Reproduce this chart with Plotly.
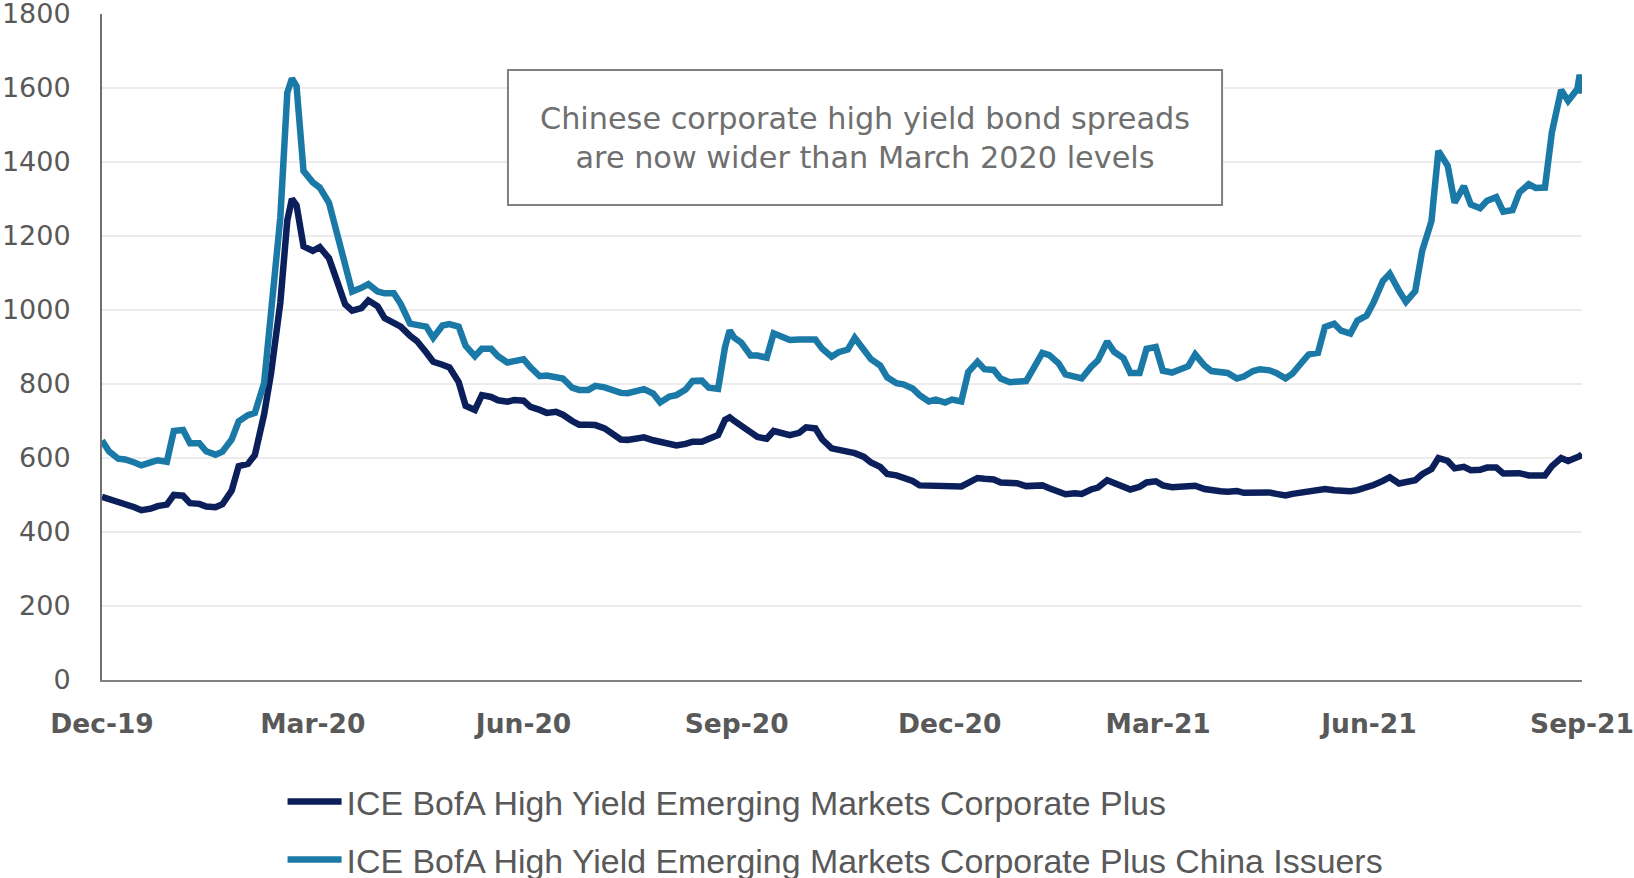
import plotly.graph_objects as go

# ---- data ----
dates = [
    "2019-12-31", "2020-01-03", "2020-01-07", "2020-01-10", "2020-01-14", "2020-01-17", "2020-01-21", "2020-01-24", "2020-01-28", "2020-01-31",
    "2020-02-04", "2020-02-07", "2020-02-11", "2020-02-14", "2020-02-18", "2020-02-21", "2020-02-25", "2020-02-28",
    "2020-03-03", "2020-03-06", "2020-03-10", "2020-03-13", "2020-03-17", "2020-03-20", "2020-03-22", "2020-03-24", "2020-03-27",
    "2020-03-31", "2020-04-03", "2020-04-07", "2020-04-10", "2020-04-14", "2020-04-17", "2020-04-21", "2020-04-24", "2020-04-28", "2020-05-01",
    "2020-05-05", "2020-05-08", "2020-05-12", "2020-05-15", "2020-05-19", "2020-05-22", "2020-05-26", "2020-05-29",
    "2020-06-02", "2020-06-05", "2020-06-09", "2020-06-12", "2020-06-16", "2020-06-19", "2020-06-23", "2020-06-26", "2020-06-30", "2020-07-03",
    "2020-07-07", "2020-07-10", "2020-07-14", "2020-07-17", "2020-07-21", "2020-07-24", "2020-07-28", "2020-07-31",
    "2020-08-04", "2020-08-07", "2020-08-11", "2020-08-14", "2020-08-18", "2020-08-21", "2020-08-25", "2020-08-28",
    "2020-09-01", "2020-09-04", "2020-09-08", "2020-09-11", "2020-09-15", "2020-09-18", "2020-09-22", "2020-09-25", "2020-09-27",
    "2020-09-29", "2020-10-02", "2020-10-06", "2020-10-09", "2020-10-13", "2020-10-16", "2020-10-20", "2020-10-23", "2020-10-27", "2020-10-30",
    "2020-11-03", "2020-11-06", "2020-11-10", "2020-11-13", "2020-11-17", "2020-11-20", "2020-11-24", "2020-11-27",
    "2020-12-01", "2020-12-04", "2020-12-08", "2020-12-11", "2020-12-15", "2020-12-18", "2020-12-22", "2020-12-25", "2020-12-29", "2021-01-01",
    "2021-01-05", "2021-01-08", "2021-01-12", "2021-01-15", "2021-01-19", "2021-01-22", "2021-01-26", "2021-01-29",
    "2021-02-02", "2021-02-05", "2021-02-09", "2021-02-12", "2021-02-16", "2021-02-19", "2021-02-23", "2021-02-26",
    "2021-03-02", "2021-03-05", "2021-03-09", "2021-03-12", "2021-03-16", "2021-03-19", "2021-03-23", "2021-03-26", "2021-03-30", "2021-04-02",
    "2021-04-06", "2021-04-09", "2021-04-13", "2021-04-16", "2021-04-20", "2021-04-23", "2021-04-27", "2021-04-30",
    "2021-05-04", "2021-05-07", "2021-05-11", "2021-05-14", "2021-05-18", "2021-05-21", "2021-05-25", "2021-05-28",
    "2021-06-01", "2021-06-04", "2021-06-08", "2021-06-11", "2021-06-15", "2021-06-18", "2021-06-22", "2021-06-25", "2021-06-29", "2021-07-02",
    "2021-07-06", "2021-07-09", "2021-07-13", "2021-07-16", "2021-07-20", "2021-07-23", "2021-07-27", "2021-07-30",
    "2021-08-03", "2021-08-06", "2021-08-10", "2021-08-13", "2021-08-17", "2021-08-20", "2021-08-24", "2021-08-27",
    "2021-08-31", "2021-09-03", "2021-09-07", "2021-09-10", "2021-09-14", "2021-09-17", "2021-09-21", "2021-09-24",
    "2021-09-28", "2021-09-29", "2021-09-30",
]

em_corp_plus = [
    495, 490, 484, 475, 467, 459, 463, 470, 474, 500,
    498, 478, 476, 469, 467, 475, 512, 578,
    584, 608, 718, 830, 1020, 1242, 1300, 1283, 1172,
    1160, 1170, 1140, 1087, 1015, 998, 1005, 1026, 1010, 978,
    967, 955, 930, 916, 885, 860, 852, 845,
    805, 741, 730, 770, 765, 756, 752, 757, 755, 738,
    730, 722, 725, 717, 700, 690, 690, 689,
    680, 668, 650, 649, 653, 656, 648, 643,
    637, 634, 638, 644, 644, 650, 662, 703, 710,
    700, 689, 670, 657, 652, 673, 669, 662, 668, 683,
    680, 650, 626, 623, 620, 613, 603, 588,
    576, 557, 553, 548, 538, 526, 525, 522, 521, 522,
    523, 533, 546, 544, 542, 534, 533, 532,
    524, 523, 526, 518, 511, 502, 505, 503,
    515, 520, 540, 532, 526, 515, 522, 534, 537, 526,
    521, 521, 522, 525, 516, 512, 510, 509,
    511, 506, 506, 509, 507, 503, 499, 503,
    506, 511, 514, 516, 513, 510, 510, 513, 519, 527,
    538, 548, 531, 533, 540, 556, 570, 600,
    592, 572, 576, 567, 568, 574, 574, 558,
    558, 559, 553, 553, 553, 578, 600, 592,
    600, 605, 610,
]

em_corp_plus_china = [
    647, 618, 598, 596, 588, 580, 588, 594, 590, 673,
    676, 640, 640, 618, 609, 617, 650, 699,
    716, 722, 803, 1010, 1250, 1587, 1626, 1605, 1376,
    1345, 1331, 1290, 1216, 1130, 1050, 1060, 1070, 1050, 1045,
    1045, 1016, 963, 960, 955, 925, 958, 962,
    955, 903, 875, 895, 895, 875, 858, 862, 867, 845,
    821, 823, 820, 815, 790, 784, 784, 795,
    791, 783, 776, 775, 780, 786, 774, 750,
    766, 770, 785, 808, 809, 790, 787, 900, 945,
    925, 912, 877, 877, 871, 937, 925, 919, 920, 920,
    920, 895, 874, 886, 893, 925, 895, 867,
    850, 818, 802, 799, 788, 770, 753, 758, 750, 758,
    753, 832, 860, 840, 838, 815, 805, 805,
    808, 840, 884, 878, 856, 826, 820, 815,
    846, 864, 915, 887, 870, 830, 830, 895, 900, 836,
    831, 840, 848, 880, 850, 835, 834, 830,
    815, 820, 835, 840, 837, 830, 815, 828,
    858, 880, 884, 954, 963, 944, 936, 971, 985, 1020,
    1078, 1098, 1052, 1022, 1051, 1160, 1240, 1430,
    1390, 1290, 1335, 1285, 1275, 1295, 1305, 1266,
    1270, 1318, 1340, 1330, 1331, 1480, 1595, 1565,
    1597, 1636, 1585,
]

series_names = [
    "ICE BofA High Yield Emerging Markets Corporate Plus",
    "ICE BofA High Yield Emerging Markets Corporate Plus China Issuers",
]

tick_dates = ["2019-12-31", "2020-03-31", "2020-06-30", "2020-09-30",
              "2020-12-31", "2021-03-31", "2021-06-30", "2021-09-30"]
tick_labels = ["Dec-19", "Mar-20", "Jun-20", "Sep-20",
               "Dec-20", "Mar-21", "Jun-21", "Sep-21"]
y_ticks = [0, 200, 400, 600, 800, 1000, 1200, 1400, 1600, 1800]

note_text = "Chinese corporate high yield bond spreads<br>are now wider than March 2020 levels"

assert len(dates) == len(em_corp_plus) == len(em_corp_plus_china)

NAVY = "#0b1f5b"
BLUE = "#1b79a7"
GRAY = "#595959"

fig = go.Figure()
fig.add_trace(go.Scatter(x=dates, y=em_corp_plus, mode="lines", name=series_names[0],
                         legendgroup="a", line=dict(color=NAVY, width=6.5)))
fig.add_trace(go.Scatter(x=dates, y=em_corp_plus_china, mode="lines", name=series_names[1],
                         legendgroup="b", line=dict(color=BLUE, width=6.5)))

fig.update_layout(
    width=1634, height=878,
    margin=dict(l=102, r=52, t=14, b=198, autoexpand=False),
    paper_bgcolor="white", plot_bgcolor="white",
    showlegend=True,
    legend=dict(
        x=0.122, y=-0.1396, xanchor="left", yanchor="top",
        orientation="v", traceorder="grouped", tracegroupgap=11,
        itemwidth=54,
        font=dict(family="Liberation Sans, Arial, sans-serif", size=33.9, color=GRAY),
        bgcolor="rgba(0,0,0,0)",
    ),
    xaxis=dict(
        type="date", range=["2019-12-31", "2021-09-30"],
        tickmode="array", tickvals=tick_dates, ticktext=tick_labels,
        showgrid=False, zeroline=False,
        showline=True, linecolor="#808080", linewidth=2,
        ticks="", ticklabelstandoff=19, ticklabeloverflow="allow",
        tickfont=dict(family="DejaVu Sans, sans-serif", size=26.5, color=GRAY, weight="bold"),
        automargin=False,
    ),
    yaxis=dict(
        range=[0, 1800], tickmode="array", tickvals=y_ticks,
        showgrid=True, gridcolor="#ececec", gridwidth=2,
        zeroline=False,
        showline=True, linecolor="#707070", linewidth=2,
        ticks="", ticklabelstandoff=24, ticklabeloverflow="allow",
        tickfont=dict(family="DejaVu Sans, sans-serif", size=27, color=GRAY),
        automargin=False,
    ),
    shapes=[dict(type="rect", xref="paper", yref="paper",
                 x0=0.2743, x1=0.7568, y0=0.7132, y1=0.9159,
                 line=dict(color="#808080", width=2), fillcolor="white", layer="above")],
    annotations=[dict(text=note_text, xref="paper", yref="paper",
                      x=0.5155, y=0.8138, xanchor="center", yanchor="middle",
                      showarrow=False, align="center",
                      font=dict(family="DejaVu Sans, sans-serif", size=30.3, color="#6f6f6f"))],
)

fig.write_html("out.html",
               config={"displayModeBar": False},
               post_script="document.body.style.margin='0';document.body.style.overflow='hidden';")
